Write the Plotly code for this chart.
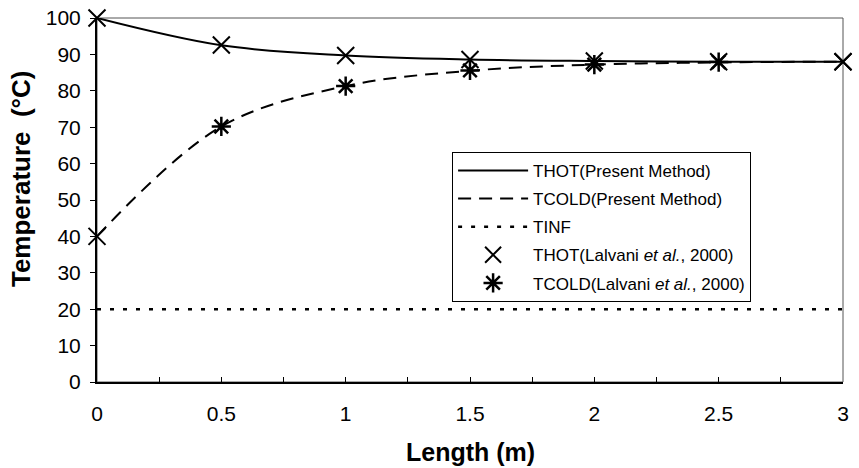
import plotly.graph_objects as go

length = [0, 0.5, 1, 1.5, 2, 2.5, 3]
thot_present = [100, 92.5, 89.7, 88.6, 88.2, 88.0, 88.0]
tcold_present = [40, 70.2, 81.3, 85.5, 87.2, 87.8, 88.0]
tinf_x = [0, 3]
tinf = [20, 20]
thot_lalvani = [100, 92.6, 89.7, 88.6, 88.2, 88.0, 88.0]
tcold_lalvani = [40, 70.2, 81.3, 85.6, 87.2, 87.9, 88.0]

x_ticks = [0, 0.5, 1, 1.5, 2, 2.5, 3]
x_tick_labels = ["0", "0.5", "1", "1.5", "2", "2.5", "3"]
y_ticks = [0, 10, 20, 30, 40, 50, 60, 70, 80, 90, 100]

FONT = "Arial, Liberation Sans, sans-serif"

fig = go.Figure()
fig.add_trace(go.Scatter(x=length, y=thot_present, mode="lines", line=dict(color="black", width=2, shape="spline"),
                         name="THOT(Present Method)", legendgroup="a"))
fig.add_trace(go.Scatter(x=length, y=tcold_present, mode="lines", line=dict(color="black", width=2, shape="spline", dash="13px,8px"),
                         name="TCOLD(Present Method)", legendgroup="b"))
fig.add_trace(go.Scatter(x=tinf_x, y=tinf, mode="lines", line=dict(color="black", width=2.5, dash="4px,9px"),
                         name="TINF", legendgroup="c"))
fig.add_trace(go.Scatter(x=length, y=thot_lalvani, mode="markers", cliponaxis=False,
                         marker=dict(symbol="x-thin-open", size=17, color="black", line=dict(color="black", width=2)),
                         name="THOT(Lalvani <i>et al.</i>, 2000)", legendgroup="d"))
# interior cold points drawn as asterisks, end points as crosses
fig.add_trace(go.Scatter(x=length[1:-1], y=tcold_lalvani[1:-1], mode="markers", cliponaxis=False,
                         marker=dict(symbol="asterisk-open", size=16, color="black", line=dict(color="black", width=2.5)),
                         name="TCOLD(Lalvani <i>et al.</i>, 2000)", legendgroup="e"))
fig.add_trace(go.Scatter(x=[length[0], length[-1]], y=[tcold_lalvani[0], tcold_lalvani[-1]], mode="markers", cliponaxis=False,
                         marker=dict(symbol="x-thin-open", size=17, color="black", line=dict(color="black", width=2)),
                         showlegend=False, legendgroup="e"))

fig.add_shape(type="rect", xref="x domain", yref="y domain", x0=0, x1=1, y0=0, y1=1,
              line=dict(color="#555555", width=1), layer="below")

fig.add_annotation(text="<b>Length (m)</b>", xref="paper", yref="paper", x=0.5, y=0,
                   xanchor="center", yanchor="middle", yshift=-70, showarrow=False,
                   font=dict(size=25, family=FONT, color="black"))
fig.add_annotation(text="<b>Temperature  (°C)</b>", xref="paper", yref="paper", x=-0.102, y=0.560,
                   xanchor="center", yanchor="middle", textangle=-90, showarrow=False,
                   font=dict(size=26, family=FONT, color="black"))

fig.update_layout(
    width=859, height=468,
    margin=dict(l=97, r=16, t=18, b=86),
    paper_bgcolor="white", plot_bgcolor="white",
    font=dict(family=FONT, color="black", size=21),
    showlegend=True,
    legend=dict(x=0.476, y=0.632, xanchor="left", yanchor="top",
                bordercolor="black", borderwidth=1, bgcolor="white",
                font=dict(size=17), tracegroupgap=3, itemwidth=70),
)
fig.update_xaxes(range=[0, 3], tickvals=x_ticks, ticktext=x_tick_labels,
                 ticks="inside", ticklen=5, tickcolor="black", tickwidth=1,
                 minor=dict(dtick=0.25, ticks="inside", ticklen=5, tickcolor="black", tickwidth=1, showgrid=False),
                 showline=True, linecolor="black", linewidth=2, showgrid=False, zeroline=False,
                 tickfont=dict(size=21), ticklabelstandoff=12, automargin=False)
fig.update_yaxes(range=[0, 100], tickvals=y_ticks,
                 ticks="outside", ticklen=5, tickcolor="black", tickwidth=1,
                 showline=True, linecolor="black", linewidth=2, showgrid=False, zeroline=False,
                 tickfont=dict(size=21), ticklabelstandoff=5, automargin=False)

fig.write_html("out.html")
